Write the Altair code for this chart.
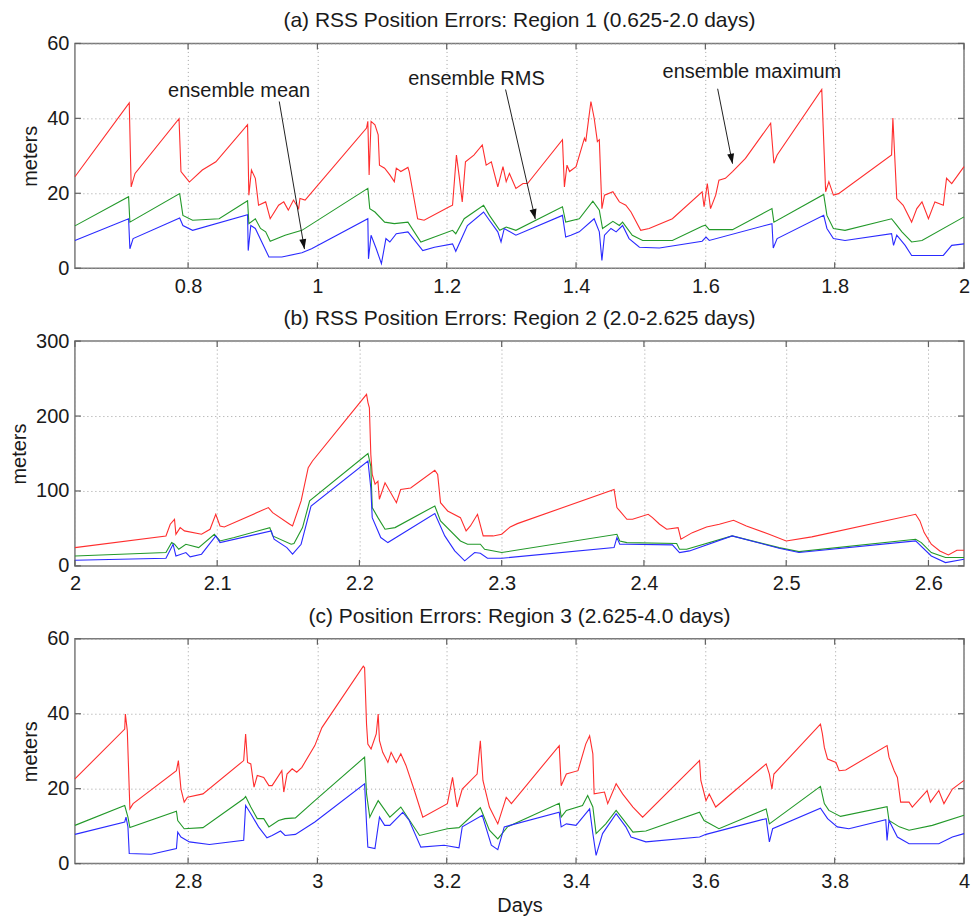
import altair as alt
import pandas as pd

FONT = "Liberation Sans"
TXT = "#1a1a1a"
FS = 20

# ---------------- Panel (a): Region 1 ----------------
p1_max_day = [0.625, 0.709, 0.712, 0.718, 0.786, 0.789, 0.795, 0.802, 0.822, 0.843, 0.892, 0.894, 0.898, 0.904,
              0.909, 0.920, 0.927, 0.940, 0.948, 0.955, 0.963, 0.971, 0.973, 0.981, 1.076, 1.078, 1.080, 1.083,
              1.089, 1.094, 1.096, 1.104, 1.112, 1.119, 1.122, 1.129, 1.140, 1.142, 1.155, 1.165, 1.204, 1.209,
              1.215, 1.219, 1.224, 1.229, 1.242, 1.255, 1.261, 1.269, 1.279, 1.287, 1.292, 1.297, 1.307, 1.318,
              1.325, 1.379, 1.382, 1.386, 1.390, 1.400, 1.413, 1.415, 1.423, 1.428, 1.433, 1.436, 1.440, 1.444,
              1.457, 1.467, 1.477, 1.485, 1.500, 1.513, 1.549, 1.595, 1.598, 1.603, 1.608, 1.616, 1.621, 1.631,
              1.642, 1.662, 1.701, 1.706, 1.711, 1.780, 1.786, 1.791, 1.798, 1.806, 1.888, 1.890, 1.896, 1.906,
              1.919, 1.927, 1.935, 1.945, 1.955, 1.968, 1.973, 1.981, 2.000]
p1_max_m = [24.4, 44.1, 21.7, 25.3, 39.9, 25.8, 24.5, 23.0, 26.2, 28.4, 38.3, 19.5, 26.2, 24.0,
            16.8, 17.7, 13.2, 16.8, 17.7, 15.5, 18.2, 15.9, 18.6, 18.2, 37.4, 39.2, 24.9, 39.2,
            38.3, 35.6, 27.5, 26.7, 24.9, 23.1, 26.7, 25.8, 26.9, 25.8, 13.2, 12.8, 16.4, 16.8,
            30.2, 24.9, 17.7, 28.4, 30.2, 32.9, 27.5, 28.4, 21.7, 27.1, 23.1, 25.3, 21.3, 22.6,
            22.6, 34.3, 21.7, 27.5, 25.8, 27.1, 34.7, 33.8, 44.5, 40.1, 33.8, 34.3, 15.9, 19.5,
            20.4, 17.7, 16.8, 15.0, 10.1, 10.6, 13.2, 20.4, 16.4, 22.6, 15.9, 19.5, 23.5, 24.0,
            25.8, 29.3, 38.7, 28.0, 30.2, 47.7, 20.4, 23.1, 19.5, 19.9, 30.2, 40.1, 18.6, 16.8,
            12.3, 15.9, 17.7, 13.2, 17.7, 16.8, 24.0, 22.6, 27.1]

p1_rms_day = [0.625, 0.708, 0.710, 0.787, 0.792, 0.807, 0.848, 0.892, 0.894, 0.904, 0.912, 0.920, 0.927, 0.950,
              0.976, 1.078, 1.081, 1.089, 1.104, 1.119, 1.140, 1.160, 1.181, 1.209, 1.214, 1.227, 1.257, 1.266,
              1.282, 1.292, 1.307, 1.379, 1.384, 1.405, 1.426, 1.436, 1.441, 1.457, 1.467, 1.472, 1.487, 1.503,
              1.549, 1.595, 1.600, 1.606, 1.642, 1.703, 1.706, 1.783, 1.788, 1.798, 1.816, 1.888, 1.894, 1.904,
              1.919, 1.935, 2.000]
p1_rms_m = [11.3, 19.1, 12.3, 19.9, 14.1, 12.8, 13.2, 18.0, 11.9, 13.2, 10.6, 9.7, 7.2, 8.8,
            10.1, 21.3, 15.9, 15.0, 12.3, 11.9, 12.3, 7.0, 8.3, 10.1, 9.2, 13.2, 16.8, 14.1,
            10.1, 11.0, 10.1, 16.4, 12.3, 13.2, 17.9, 15.5, 10.6, 12.5, 11.4, 12.3, 8.8, 7.4,
            7.4, 11.2, 11.5, 10.3, 10.3, 15.9, 12.3, 19.7, 14.1, 10.6, 10.1, 13.2, 11.9, 9.7,
            7.0, 7.4, 13.7]

p1_mean_day = [0.625, 0.708, 0.710, 0.715, 0.787, 0.792, 0.807, 0.892, 0.893, 0.897, 0.904, 0.925, 0.945, 0.976,
               0.991, 1.078, 1.079, 1.083, 1.091, 1.099, 1.106, 1.112, 1.122, 1.140, 1.163, 1.181, 1.209, 1.214,
               1.232, 1.257, 1.266, 1.279, 1.284, 1.289, 1.307, 1.379, 1.384, 1.392, 1.405, 1.428, 1.436, 1.440,
               1.444, 1.454, 1.462, 1.472, 1.482, 1.498, 1.529, 1.595, 1.601, 1.606, 1.703, 1.705, 1.711, 1.783,
               1.788, 1.798, 1.816, 1.888, 1.891, 1.896, 1.909, 1.919, 1.968, 1.981, 2.000]
p1_mean_m = [7.4, 13.2, 5.2, 7.9, 13.4, 11.4, 10.1, 14.3, 4.7, 11.4, 10.6, 3.0, 3.0, 4.1,
             5.2, 13.2, 2.5, 8.8, 5.2, 1.2, 7.9, 7.0, 9.2, 9.7, 4.7, 5.6, 6.5, 4.5,
             11.4, 15.0, 12.8, 9.7, 7.0, 10.6, 8.8, 14.1, 8.3, 8.8, 9.7, 13.2, 9.7, 2.1,
             8.8, 10.6, 9.7, 11.4, 7.9, 5.6, 5.4, 7.2, 8.3, 7.4, 11.9, 5.4, 7.9, 14.1,
             10.6, 7.9, 7.4, 9.2, 6.1, 8.8, 6.1, 3.4, 3.4, 6.1, 6.5]

# ---------------- Panel (b): Region 2 ----------------
p2_max_day = [2.000, 2.064, 2.067, 2.070, 2.071, 2.074, 2.077, 2.089, 2.095, 2.099, 2.102, 2.105, 2.136, 2.139,
              2.151, 2.153, 2.159, 2.164, 2.167, 2.205, 2.206, 2.207, 2.208, 2.209, 2.211, 2.213, 2.214, 2.218,
              2.226, 2.229, 2.236, 2.253, 2.255, 2.257, 2.262, 2.271, 2.275, 2.278, 2.283, 2.287, 2.294, 2.300,
              2.306, 2.311, 2.379, 2.381, 2.383, 2.388, 2.392, 2.403, 2.406, 2.411, 2.416, 2.424, 2.426, 2.434,
              2.444, 2.453, 2.463, 2.472, 2.488, 2.500, 2.518, 2.591, 2.594, 2.597, 2.602, 2.608, 2.614, 2.620,
              2.625]
p2_max_m = [24.4, 40.0, 55.6, 62.2, 42.2, 51.1, 46.7, 42.2, 48.9, 68.9, 53.3, 52.0, 77.8, 71.1,
            55.6, 53.3, 86.7, 131.0, 140.0, 229.0, 218.0, 211.0, 149.0, 122.0, 109.0, 113.0, 89.0, 111.0,
            84.4, 102.0, 104.0, 127.6, 122.0, 84.4, 73.3, 64.4, 46.7, 53.3, 68.9, 40.0, 40.0, 42.2,
            52.0, 56.4, 102.0, 77.8, 73.3, 62.2, 62.2, 68.9, 64.4, 55.6, 48.9, 51.1, 35.6, 44.4,
            52.0, 55.6, 60.9, 53.3, 42.2, 33.3, 38.7, 68.9, 60.0, 44.4, 28.9, 20.0, 14.7, 20.9,
            20.9]

p2_rms_day = [2.000, 2.064, 2.068, 2.070, 2.073, 2.078, 2.087, 2.098, 2.102, 2.112, 2.137, 2.139, 2.152, 2.154,
              2.160, 2.165, 2.206, 2.208, 2.209, 2.213, 2.218, 2.225, 2.253, 2.257, 2.271, 2.276, 2.285, 2.288,
              2.300, 2.381, 2.383, 2.388, 2.423, 2.425, 2.430, 2.462, 2.495, 2.509, 2.591, 2.595, 2.602, 2.612,
              2.625]
p2_rms_m = [13.3, 17.8, 31.1, 28.9, 22.2, 28.9, 24.4, 42.2, 33.3, 37.8, 51.1, 40.0, 28.9, 29.8,
            51.1, 86.7, 150.0, 133.0, 77.8, 64.4, 48.9, 51.1, 80.0, 60.0, 33.3, 28.9, 28.9, 22.2,
            17.8, 42.2, 33.3, 31.1, 29.8, 22.2, 22.2, 40.0, 24.4, 19.1, 35.6, 31.1, 17.8, 11.1,
            11.1]

p2_mean_day = [2.000, 2.064, 2.069, 2.071, 2.078, 2.081, 2.089, 2.099, 2.102, 2.138, 2.140, 2.149, 2.153, 2.159,
               2.166, 2.206, 2.208, 2.209, 2.215, 2.220, 2.253, 2.260, 2.267, 2.274, 2.281, 2.285, 2.290, 2.300,
               2.379, 2.381, 2.383, 2.388, 2.420, 2.425, 2.432, 2.462, 2.495, 2.509, 2.591, 2.602, 2.612, 2.625]
p2_mean_m = [7.6, 10.2, 28.9, 13.3, 17.8, 12.0, 15.6, 40.0, 31.1, 46.7, 35.6, 24.4, 15.6, 28.9,
             80.0, 140.0, 104.0, 64.4, 37.8, 31.1, 69.8, 40.0, 20.0, 6.7, 17.8, 16.9, 10.2, 10.2,
             24.4, 37.8, 28.9, 28.9, 28.0, 17.8, 20.0, 40.0, 23.6, 17.8, 33.3, 13.3, 4.4, 8.9]

# ---------------- Panel (c): Region 3 ----------------
p3_max_day = [2.625, 2.702, 2.703, 2.706, 2.710, 2.715, 2.782, 2.785, 2.789, 2.794, 2.799, 2.823, 2.886, 2.889,
              2.892, 2.897, 2.902, 2.907, 2.917, 2.925, 2.930, 2.945, 2.948, 2.953, 2.961, 2.968, 2.976, 2.996,
              3.007, 3.071, 3.073, 3.076, 3.078, 3.083, 3.091, 3.094, 3.096, 3.101, 3.109, 3.114, 3.122, 3.129,
              3.137, 3.150, 3.163, 3.201, 3.209, 3.216, 3.224, 3.247, 3.252, 3.256, 3.266, 3.279, 3.292, 3.300,
              3.374, 3.377, 3.385, 3.403, 3.415, 3.421, 3.426, 3.428, 3.444, 3.449, 3.462, 3.472, 3.488, 3.503,
              3.591, 3.593, 3.601, 3.606, 3.616, 3.694, 3.699, 3.703, 3.706, 3.778, 3.781, 3.784, 3.789, 3.802,
              3.807, 3.817, 3.881, 3.884, 3.892, 3.897, 3.902, 3.915, 3.920, 3.943, 3.948, 3.961, 3.969, 3.982,
              4.000]
p3_max_m = [22.6, 35.9, 39.9, 35.5, 14.6, 16.0, 24.8, 27.5, 19.9, 16.4, 17.7, 18.6, 27.5, 34.6,
            27.0, 26.6, 20.4, 23.5, 23.0, 20.8, 20.8, 24.8, 19.1, 23.9, 25.3, 24.4, 25.7, 31.5,
            36.3, 52.7, 52.3, 37.2, 31.9, 30.6, 34.6, 39.9, 32.8, 29.7, 27.0, 29.7, 27.0, 29.3,
            26.2, 19.5, 12.4, 16.0, 23.0, 15.1, 19.9, 23.9, 32.8, 22.2, 15.1, 10.6, 17.7, 16.0,
            31.5, 20.8, 23.9, 24.8, 31.9, 34.1, 29.3, 18.6, 19.1, 16.0, 21.3, 18.6, 15.1, 12.4,
            27.5, 22.2, 16.8, 18.6, 15.1, 26.6, 23.9, 19.9, 23.9, 37.2, 34.6, 31.0, 27.9, 27.0,
            24.8, 25.0, 31.5, 28.4, 24.8, 23.0, 16.4, 16.4, 15.1, 19.5, 16.4, 19.5, 16.0, 19.9,
            22.2]

p3_rms_day = [2.625, 2.702, 2.707, 2.710, 2.782, 2.784, 2.794, 2.823, 2.886, 2.889, 2.897, 2.907, 2.917, 2.925,
              2.940, 2.950, 2.966, 2.996, 3.073, 3.076, 3.081, 3.086, 3.094, 3.112, 3.129, 3.158, 3.201, 3.219,
              3.252, 3.266, 3.279, 3.294, 3.374, 3.377, 3.385, 3.410, 3.418, 3.426, 3.431, 3.446, 3.462, 3.472,
              3.488, 3.508, 3.591, 3.598, 3.621, 3.694, 3.699, 3.778, 3.784, 3.791, 3.809, 3.881, 3.884, 3.900,
              3.915, 3.951, 4.000]
p3_rms_m = [10.2, 15.5, 12.4, 9.6, 14.0, 11.5, 9.3, 9.6, 17.3, 17.9, 15.1, 12.0, 12.0, 9.8,
            11.5, 12.0, 12.2, 16.8, 28.4, 18.6, 12.4, 14.2, 16.8, 12.4, 15.1, 7.5, 9.3, 9.6,
            14.9, 8.9, 6.6, 9.8, 16.1, 12.4, 14.2, 15.5, 18.2, 15.1, 8.0, 10.6, 14.2, 12.0,
            8.4, 8.7, 13.7, 11.5, 9.3, 14.6, 10.6, 20.6, 16.0, 14.2, 12.6, 15.2, 11.5, 9.8,
            8.9, 10.2, 12.9]

p3_mean_day = [2.625, 2.702, 2.704, 2.707, 2.709, 2.743, 2.782, 2.784, 2.789, 2.802, 2.833, 2.886, 2.889, 2.897,
               2.909, 2.922, 2.930, 2.943, 2.950, 2.966, 2.996, 3.073, 3.076, 3.078, 3.089, 3.096, 3.104, 3.112,
               3.132, 3.142, 3.160, 3.196, 3.219, 3.224, 3.255, 3.269, 3.279, 3.289, 3.374, 3.377, 3.385, 3.400,
               3.421, 3.426, 3.431, 3.441, 3.462, 3.477, 3.485, 3.508, 3.591, 3.601, 3.694, 3.699, 3.704, 3.778,
               3.789, 3.804, 3.822, 3.879, 3.881, 3.884, 3.897, 3.915, 3.961, 3.982, 4.000]
p3_mean_m = [7.8, 11.1, 12.4, 9.8, 2.7, 2.5, 4.0, 8.4, 7.1, 5.8, 5.1, 6.2, 15.5, 13.3,
             9.8, 6.9, 7.5, 8.7, 7.5, 7.8, 11.1, 21.3, 10.6, 4.4, 4.0, 12.4, 10.2, 10.2,
             13.7, 11.5, 4.4, 4.9, 4.2, 9.8, 12.9, 4.9, 3.7, 9.8, 13.7, 9.8, 10.6, 10.2,
             14.6, 8.0, 2.2, 8.0, 13.3, 9.8, 7.1, 5.8, 7.1, 7.8, 12.0, 5.8, 9.3, 14.8,
             12.0, 9.8, 9.3, 11.7, 6.2, 11.5, 7.1, 5.3, 5.3, 7.1, 8.0]

# ---------------- Axes / labels ----------------
p1_xticks = [0.8, 1.0, 1.2, 1.4, 1.6, 1.8, 2.0]
p2_xticks = [2.0, 2.1, 2.2, 2.3, 2.4, 2.5, 2.6]
p3_xticks = [2.8, 3.0, 3.2, 3.4, 3.6, 3.8, 4.0]
p1_yticks = [0, 20, 40, 60]
p2_yticks = [0, 100, 200, 300]
p3_yticks = [0, 20, 40, 60]

titles = ["(a) RSS Position Errors: Region 1 (0.625-2.0 days)",
          "(b) RSS Position Errors: Region 2 (2.0-2.625 days)",
          "(c) Position Errors: Region 3 (2.625-4.0 days)"]

# annotations (panel a)
ann_text = ["ensemble mean", "ensemble RMS", "ensemble maximum"]
ann_text_day = [0.879, 1.246, 1.672]
ann_text_m = [47.4, 50.6, 52.5]
ann_from_day = [0.941, 1.291, 1.619]
ann_from_m = [44.5, 47.7, 47.9]
ann_to_day = [0.980, 1.337, 1.642]
ann_to_m = [5.1, 13.1, 27.9]
ann_head_angle = [350, 347, 349]

COL_MAX, COL_RMS, COL_MEAN = "#ff2e2e", "#23992a", "#2a2aff"
W, H = 890, 225


def panel(series, xdom, xticks, ydom, yticks, title, xtitle=None, annotate=False):
    xs = alt.Scale(domain=xdom, nice=False, zero=False)
    ys = alt.Scale(domain=ydom, nice=False, zero=False)
    xkw = dict(values=xticks, format="~g", labelPadding=8, labelFlush=False)
    if xtitle:
        xkw["title"] = xtitle
        xkw["titlePadding"] = 4
    else:
        xkw["title"] = ""
    xaxis = alt.Axis(**xkw)
    yaxis = alt.Axis(values=yticks, title="meters", labelPadding=6, titlePadding=6, labelFlush=False)

    X = lambda f="day": alt.X(f"{f}:Q", scale=xs, axis=xaxis)
    Y = lambda f="m": alt.Y(f"{f}:Q", scale=ys, axis=yaxis)

    layers = []
    for days, vals, col in series:
        df = pd.DataFrame({"day": days, "m": vals})
        layers.append(alt.Chart(df).mark_line(color=col, strokeWidth=1.1).encode(x=X(), y=Y()))

    # inward tick marks (MATLAB style)
    xt = pd.DataFrame({"day": xticks})
    yt = pd.DataFrame({"m": yticks})
    tick_style = dict(color="#606060", strokeWidth=1.2)
    layers.append(alt.Chart(xt).mark_rule(**tick_style).encode(x=X(), y=alt.value(0), y2=alt.value(6)))
    layers.append(alt.Chart(xt).mark_rule(**tick_style).encode(x=X(), y=alt.value(H), y2=alt.value(H - 6)))
    layers.append(alt.Chart(yt).mark_rule(**tick_style).encode(y=Y(), x=alt.value(0), x2=alt.value(6)))
    layers.append(alt.Chart(yt).mark_rule(**tick_style).encode(y=Y(), x=alt.value(W), x2=alt.value(W - 6)))

    # panel title, baseline 16 px above the plot frame
    ttl = pd.DataFrame({"t": [titles[title]]})
    layers.append(alt.Chart(ttl).mark_text(font=FONT, fontSize=21, color=TXT, align="center",
                                           baseline="alphabetic").encode(
        x=alt.value(W / 2), y=alt.value(-16), text="t:N"))

    if annotate:
        tdf = pd.DataFrame({"day": ann_text_day, "m": ann_text_m, "label": ann_text})
        adf = pd.DataFrame({"day": ann_from_day, "m": ann_from_m, "day2": ann_to_day, "m2": ann_to_m})
        hdf = pd.DataFrame({"day": ann_to_day, "m": ann_to_m, "angle": ann_head_angle})
        layers.append(alt.Chart(tdf).mark_text(font=FONT, fontSize=FS, color=TXT, align="center",
                                               baseline="middle").encode(x=X(), y=Y(), text="label:N"))
        layers.append(alt.Chart(adf).mark_rule(color="#202020", strokeWidth=1).encode(
            x=X(), y=Y(), x2="day2:Q", y2="m2:Q"))
        layers.append(alt.Chart(hdf).mark_point(shape="M-0.35,-1L0.35,-1L0,0Z", filled=True, color="#101010",
                                                size=400, opacity=1).encode(
            x=X(), y=Y(), angle=alt.Angle("angle:Q", scale=None)))

    return alt.layer(*layers).properties(width=W, height=H)


p1 = panel([(p1_max_day, p1_max_m, COL_MAX), (p1_rms_day, p1_rms_m, COL_RMS), (p1_mean_day, p1_mean_m, COL_MEAN)],
           [0.625, 2.0], p1_xticks, [0, 60], p1_yticks, 0, annotate=True)
p2 = panel([(p2_max_day, p2_max_m, COL_MAX), (p2_rms_day, p2_rms_m, COL_RMS), (p2_mean_day, p2_mean_m, COL_MEAN)],
           [2.0, 2.625], p2_xticks, [0, 300], p2_yticks, 1)
p3 = panel([(p3_max_day, p3_max_m, COL_MAX), (p3_rms_day, p3_rms_m, COL_RMS), (p3_mean_day, p3_mean_m, COL_MEAN)],
           [2.625, 4.0], p3_xticks, [0, 60], p3_yticks, 2, xtitle="Days")

chart = alt.vconcat(p1, p2, p3, spacing=73, bounds="flush").properties(
    padding={"left": 8, "top": 9, "right": 0, "bottom": 0},
    background="white"
).configure_view(
    stroke="#7a7a7a", strokeWidth=1.5
).configure_axis(
    labelFont=FONT, labelFontSize=FS, labelColor=TXT,
    titleFont=FONT, titleFontSize=FS, titleFontWeight="normal", titleColor=TXT,
    grid=True, gridColor="#a0a0a0", gridDash=[1, 3], gridWidth=1,
    domain=False, ticks=False
)

chart.save("out.html", embed_options={"renderer": "svg", "actions": False})
